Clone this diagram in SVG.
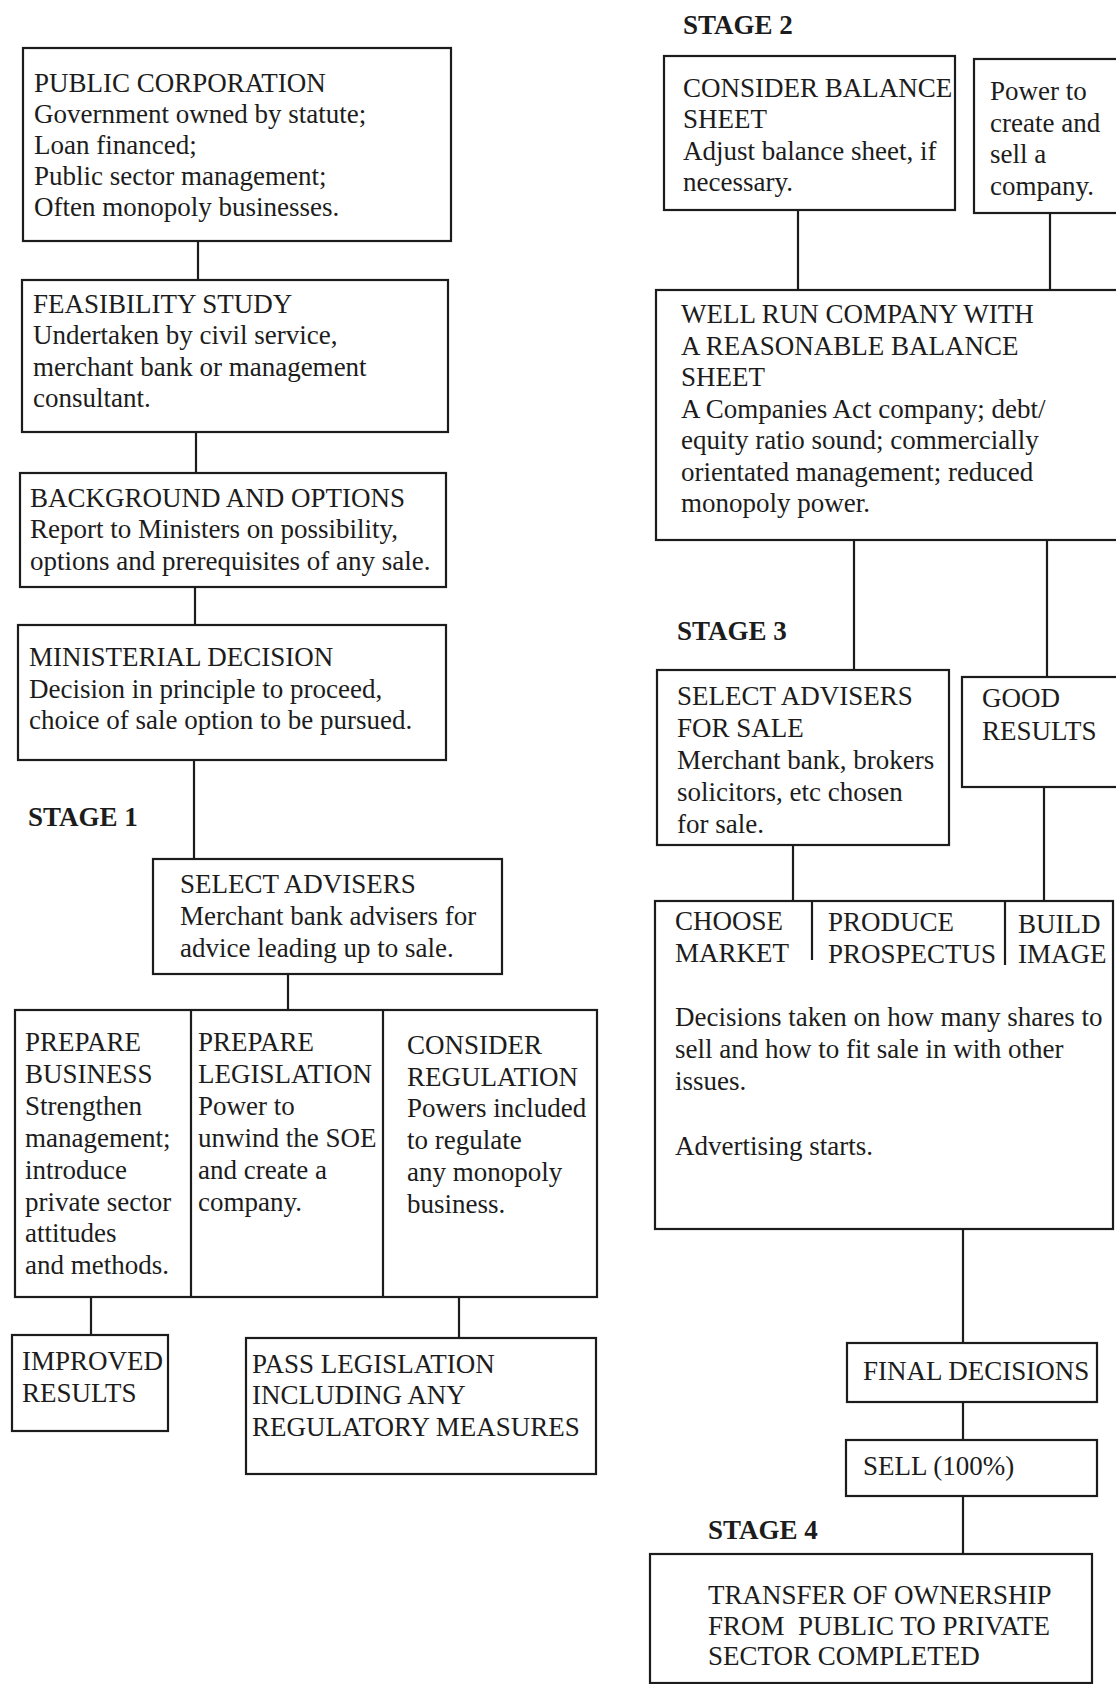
<svg xmlns="http://www.w3.org/2000/svg" width="1116" height="1684" viewBox="0 0 1116 1684">
<style>
  .box { fill: none; stroke: #1c1c1c; stroke-width: 2.2; }
  .ln { stroke: #1c1c1c; stroke-width: 2.2; fill: none; }
  text { font-family: "Liberation Serif", "Times New Roman", serif; font-size: 27px; fill: #1c1c1c; }
  .stage { font-weight: bold; }
  .pre { white-space: pre; }
</style>
<rect x="0" y="0" width="1116" height="1684" fill="#ffffff"/>

<g id="connectors">
  <line class="ln" x1="198" y1="241" x2="198" y2="280"/>
  <line class="ln" x1="196" y1="432" x2="196" y2="473"/>
  <line class="ln" x1="195" y1="587" x2="195" y2="625"/>
  <line class="ln" x1="194" y1="760" x2="194" y2="859"/>
  <line class="ln" x1="288" y1="974" x2="288" y2="1010"/>
  <line class="ln" x1="91" y1="1297" x2="91" y2="1335"/>
  <line class="ln" x1="459" y1="1297" x2="459" y2="1338"/>
  <line class="ln" x1="798" y1="210" x2="798" y2="290"/>
  <line class="ln" x1="1050" y1="213" x2="1050" y2="290"/>
  <line class="ln" x1="854" y1="540" x2="854" y2="670"/>
  <line class="ln" x1="1047" y1="540" x2="1047" y2="677"/>
  <line class="ln" x1="793" y1="845" x2="793" y2="901"/>
  <line class="ln" x1="1044" y1="787" x2="1044" y2="901"/>
  <line class="ln" x1="963" y1="1229" x2="963" y2="1343"/>
  <line class="ln" x1="963" y1="1402" x2="963" y2="1440"/>
  <line class="ln" x1="963" y1="1496" x2="963" y2="1554"/>
</g>

<g id="public-corporation">
  <rect class="box" x="23" y="48" width="428" height="193"/>
  <text x="34" y="92">PUBLIC CORPORATION</text>
  <text x="34" y="123">Government owned by statute;</text>
  <text x="34" y="154">Loan financed;</text>
  <text x="34" y="185">Public sector management;</text>
  <text x="34" y="216">Often monopoly businesses.</text>
</g>

<g id="feasibility-study">
  <rect class="box" x="22" y="280" width="426" height="152"/>
  <text x="33" y="313">FEASIBILITY STUDY</text>
  <text x="33" y="344">Undertaken by civil service,</text>
  <text x="33" y="376">merchant bank or management</text>
  <text x="33" y="407">consultant.</text>
</g>

<g id="background-options">
  <rect class="box" x="20" y="473" width="426" height="114"/>
  <text x="30" y="507">BACKGROUND AND OPTIONS</text>
  <text x="30" y="538">Report to Ministers on possibility,</text>
  <text x="30" y="570">options and prerequisites of any sale.</text>
</g>

<g id="ministerial-decision">
  <rect class="box" x="18" y="625" width="428" height="135"/>
  <text x="29" y="666">MINISTERIAL DECISION</text>
  <text x="29" y="698">Decision in principle to proceed,</text>
  <text x="29" y="729">choice of sale option to be pursued.</text>
</g>

<g id="stage-1">
  <text class="stage" x="28" y="826">STAGE 1</text>
</g>

<g id="select-advisers">
  <rect class="box" x="153" y="859" width="349" height="115"/>
  <text x="180" y="893">SELECT ADVISERS</text>
  <text x="180" y="925">Merchant bank advisers for</text>
  <text x="180" y="957">advice leading up to sale.</text>
</g>

<g id="prepare-group">
  <rect class="box" x="15" y="1010" width="582" height="287"/>
  <line class="ln" x1="191" y1="1010" x2="191" y2="1297"/>
  <line class="ln" x1="383" y1="1010" x2="383" y2="1297"/>
  <g id="prepare-business">
    <text x="25" y="1051">PREPARE</text>
    <text x="25" y="1083">BUSINESS</text>
    <text x="25" y="1115">Strengthen</text>
    <text x="25" y="1147">management;</text>
    <text x="25" y="1179">introduce</text>
    <text x="25" y="1211">private sector</text>
    <text x="25" y="1242">attitudes</text>
    <text x="25" y="1274">and methods.</text>
  </g>
  <g id="prepare-legislation">
    <text x="198" y="1051">PREPARE</text>
    <text x="198" y="1083">LEGISLATION</text>
    <text x="198" y="1115">Power to</text>
    <text x="198" y="1147">unwind the SOE</text>
    <text x="198" y="1179">and create a</text>
    <text x="198" y="1211">company.</text>
  </g>
  <g id="consider-regulation">
    <text x="407" y="1054">CONSIDER</text>
    <text x="407" y="1086">REGULATION</text>
    <text x="407" y="1117">Powers included</text>
    <text x="407" y="1149">to regulate</text>
    <text x="407" y="1181">any monopoly</text>
    <text x="407" y="1213">business.</text>
  </g>
</g>

<g id="improved-results">
  <rect class="box" x="12" y="1335" width="156" height="96"/>
  <text x="22" y="1370">IMPROVED</text>
  <text x="22" y="1402">RESULTS</text>
</g>

<g id="pass-legislation">
  <rect class="box" x="246" y="1338" width="350" height="136"/>
  <text x="252" y="1373">PASS LEGISLATION</text>
  <text x="252" y="1404">INCLUDING ANY</text>
  <text x="252" y="1436">REGULATORY MEASURES</text>
</g>

<g id="stage-2">
  <text class="stage" x="683" y="34">STAGE 2</text>
</g>

<g id="consider-balance-sheet">
  <rect class="box" x="664" y="56" width="291" height="154"/>
  <text x="683" y="97">CONSIDER BALANCE</text>
  <text x="683" y="128">SHEET</text>
  <text x="683" y="160">Adjust balance sheet, if</text>
  <text x="683" y="191">necessary.</text>
</g>

<g id="power-to-create">
  <rect class="box" x="974" y="59" width="160" height="154"/>
  <text x="990" y="100">Power to</text>
  <text x="990" y="132">create and</text>
  <text x="990" y="163">sell a</text>
  <text x="990" y="195">company.</text>
</g>

<g id="well-run-company">
  <rect class="box" x="656" y="290" width="480" height="250"/>
  <text x="681" y="323">WELL RUN COMPANY WITH</text>
  <text x="681" y="355">A REASONABLE BALANCE</text>
  <text x="681" y="386">SHEET</text>
  <text x="681" y="418">A Companies Act company; debt/</text>
  <text x="681" y="449">equity ratio sound; commercially</text>
  <text x="681" y="481">orientated management; reduced</text>
  <text x="681" y="512">monopoly power.</text>
</g>

<g id="stage-3">
  <text class="stage" x="677" y="640">STAGE 3</text>
</g>

<g id="select-advisers-for-sale">
  <rect class="box" x="657" y="670" width="292" height="175"/>
  <text x="677" y="705">SELECT ADVISERS</text>
  <text x="677" y="737">FOR SALE</text>
  <text x="677" y="769">Merchant bank, brokers</text>
  <text x="677" y="801">solicitors, etc chosen</text>
  <text x="677" y="833">for sale.</text>
</g>

<g id="good-results">
  <rect class="box" x="962" y="677" width="170" height="110"/>
  <text x="982" y="707">GOOD</text>
  <text x="982" y="740">RESULTS</text>
</g>

<g id="market-prospectus-image">
  <rect class="box" x="655" y="901" width="458" height="328"/>
  <line class="ln" x1="812" y1="901" x2="812" y2="960"/>
  <line class="ln" x1="1005" y1="901" x2="1005" y2="965"/>
  <text x="675" y="930">CHOOSE</text>
  <text x="675" y="962">MARKET</text>
  <text x="828" y="931">PRODUCE</text>
  <text x="828" y="963">PROSPECTUS</text>
  <text x="1018" y="933">BUILD</text>
  <text x="1018" y="963">IMAGE</text>
  <text x="675" y="1026">Decisions taken on how many shares to</text>
  <text x="675" y="1058">sell and how to fit sale in with other</text>
  <text x="675" y="1090">issues.</text>
  <text x="675" y="1155">Advertising starts.</text>
</g>

<g id="final-decisions">
  <rect class="box" x="847" y="1343" width="250" height="59"/>
  <text x="863" y="1380">FINAL DECISIONS</text>
</g>

<g id="sell">
  <rect class="box" x="846" y="1440" width="251" height="56"/>
  <text x="863" y="1475">SELL (100%)</text>
</g>

<g id="stage-4">
  <text class="stage" x="708" y="1539">STAGE 4</text>
</g>

<g id="transfer-ownership">
  <rect class="box" x="650" y="1554" width="442" height="129"/>
  <text x="708" y="1604">TRANSFER OF OWNERSHIP</text>
  <text class="pre" x="708" y="1635">FROM  PUBLIC TO PRIVATE</text>
  <text x="708" y="1665">SECTOR COMPLETED</text>
</g>
</svg>
